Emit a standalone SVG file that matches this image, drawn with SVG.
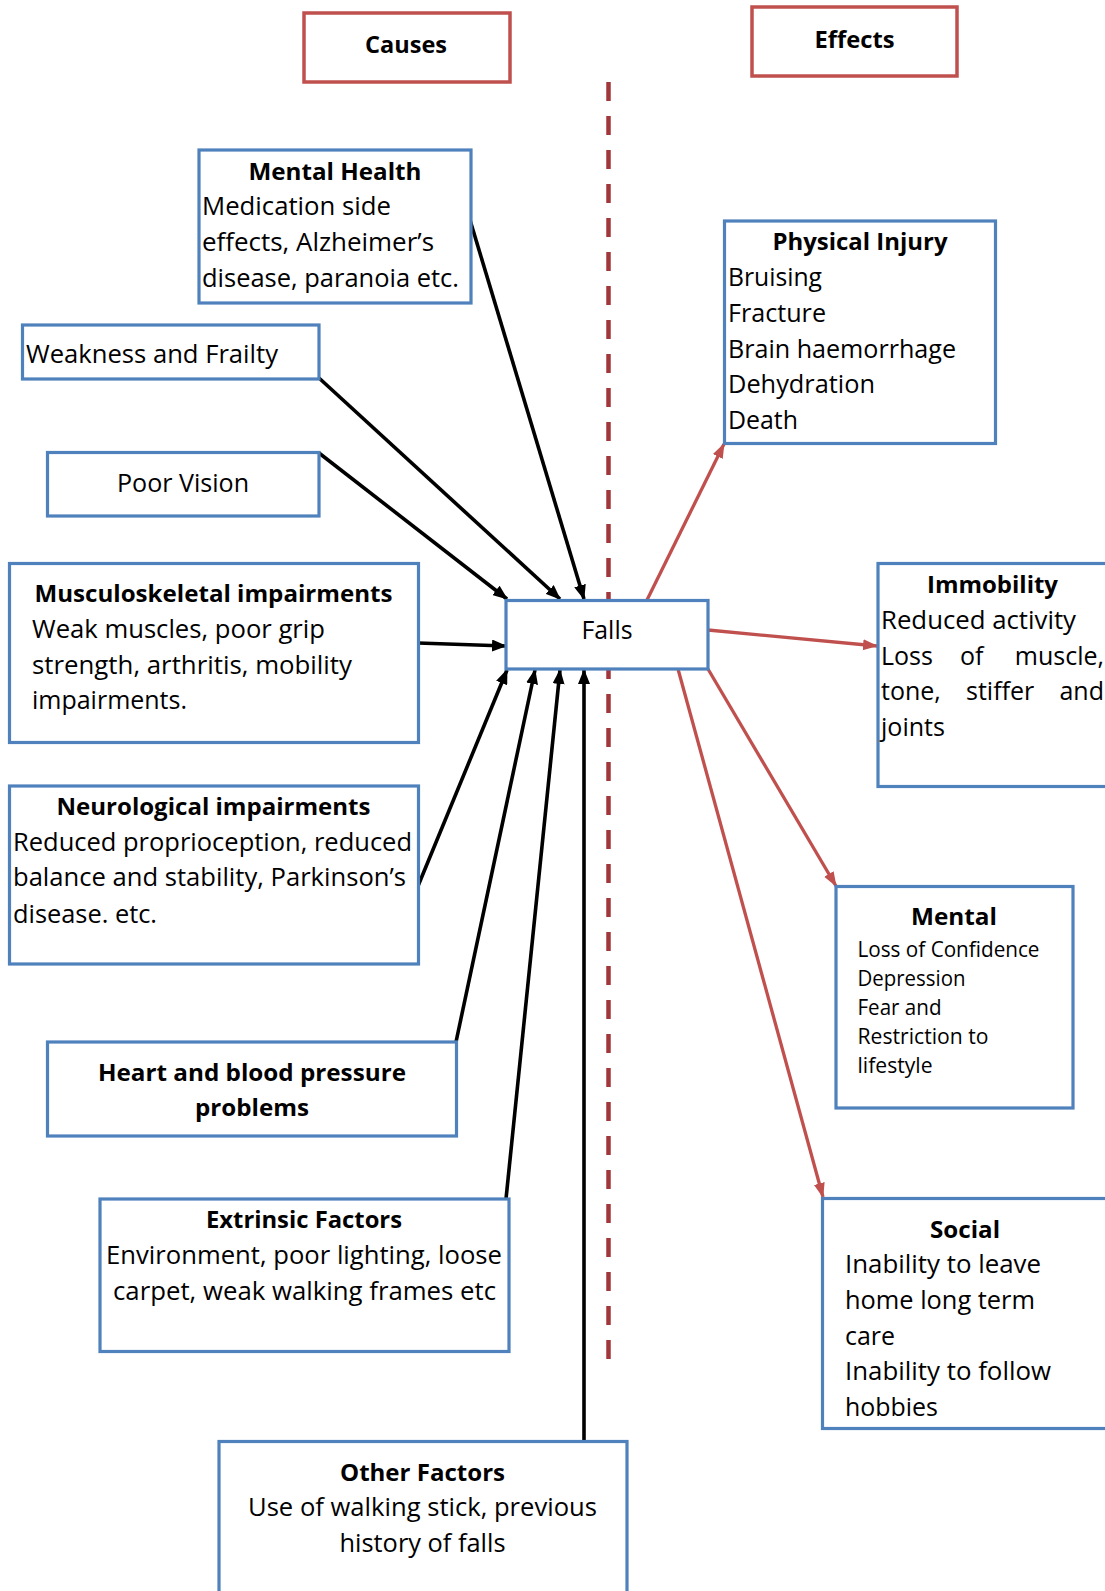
<svg xmlns="http://www.w3.org/2000/svg" width="1105" height="1591" viewBox="0 0 1105 1591">
<style>
.box{fill:#fff;stroke:#4F81BD;stroke-width:3.2}
.hdr{fill:#fff;stroke:#C0504D;stroke-width:3.5}
text{font-family:'Open Sans','Liberation Sans',sans-serif;font-size:25px;fill:#000}
.b{font-weight:700;font-size:24px}
.s{font-size:21px}
.c{text-anchor:middle}
.e{text-anchor:end}
.blk{stroke:#000;stroke-width:3.6;fill:none;marker-end:url(#ab)}
.red{stroke:#C0504D;stroke-width:3.3;fill:none;marker-end:url(#ar)}
.dash{stroke:#A0383B;stroke-width:4.5;stroke-dasharray:19 15;fill:none}
</style>
<defs>
<marker id="ab" viewBox="0 0 15 12" refX="14" refY="6" markerWidth="15" markerHeight="12" markerUnits="userSpaceOnUse" orient="auto"><path d="M0,0 L15,6 L0,12 z" fill="#000"/></marker>
<marker id="ar" viewBox="0 0 15 12" refX="14" refY="6" markerWidth="15" markerHeight="12" markerUnits="userSpaceOnUse" orient="auto"><path d="M0,0.5 L15,6 L0,11.5 z" fill="#C0504D"/></marker>
</defs>
<rect width="1105" height="1591" fill="#fff"/>
<line class="dash" x1="608.5" y1="82" x2="608.5" y2="1364"/>
<g id="connectors">
<line class="blk" x1="470" y1="220" x2="584" y2="599"/>
<line class="blk" x1="319" y1="378" x2="560" y2="599"/>
<line class="blk" x1="319" y1="453" x2="507" y2="599"/>
<line class="blk" x1="418" y1="643" x2="506" y2="646"/>
<line class="blk" x1="418" y1="886" x2="507" y2="670"/>
<line class="blk" x1="456" y1="1042" x2="535" y2="670"/>
<line class="blk" x1="506" y1="1199" x2="560" y2="670"/>
<line class="blk" x1="584" y1="1441" x2="584" y2="670"/>
<line class="red" x1="647" y1="600" x2="724" y2="444"/>
<line class="red" x1="708" y1="630" x2="877" y2="646"/>
<line class="red" x1="708" y1="669" x2="836" y2="886"/>
<line class="red" x1="678" y1="669" x2="823" y2="1197"/>
</g>
<g id="causes"><rect class="hdr" x="304" y="13" width="206" height="69"/><text class="b c" x="406" y="53" textLength="82" lengthAdjust="spacingAndGlyphs">Causes</text></g>
<g id="effects"><rect class="hdr" x="752" y="7" width="205" height="69"/><text class="b c" x="854.5" y="48" textLength="80" lengthAdjust="spacingAndGlyphs">Effects</text></g>
<g id="falls"><rect class="box" x="506" y="600.5" width="202" height="68.5"/><text class="c" x="607" y="639" textLength="51" lengthAdjust="spacingAndGlyphs">Falls</text></g>
<g id="mental-health"><rect class="box" x="199" y="150" width="272" height="153"/>
<text class="b c" x="335" y="180" textLength="173" lengthAdjust="spacingAndGlyphs">Mental Health</text>
<text x="202" y="215" textLength="189" lengthAdjust="spacingAndGlyphs">Medication side</text>
<text x="202" y="250.5" textLength="232" lengthAdjust="spacingAndGlyphs">effects, Alzheimer’s</text>
<text x="202" y="286.5" textLength="257" lengthAdjust="spacingAndGlyphs">disease, paranoia etc.</text></g>
<g id="weakness"><rect class="box" x="22.5" y="325" width="296.5" height="54"/>
<text x="26" y="363" textLength="252" lengthAdjust="spacingAndGlyphs">Weakness and Frailty</text></g>
<g id="poor-vision"><rect class="box" x="47.5" y="452.5" width="271.5" height="63.5"/>
<text class="c" x="183" y="491.5" textLength="132" lengthAdjust="spacingAndGlyphs">Poor Vision</text></g>
<g id="musculoskeletal"><rect class="box" x="9.5" y="563.5" width="409" height="179"/>
<text class="b c" x="213.5" y="602" textLength="358" lengthAdjust="spacingAndGlyphs">Musculoskeletal impairments</text>
<text x="32" y="638" textLength="293" lengthAdjust="spacingAndGlyphs">Weak muscles, poor grip</text>
<text x="32" y="673.5" textLength="320" lengthAdjust="spacingAndGlyphs">strength, arthritis, mobility</text>
<text x="32" y="709" textLength="155" lengthAdjust="spacingAndGlyphs">impairments.</text></g>
<g id="neurological"><rect class="box" x="9.5" y="786" width="409" height="178"/>
<text class="b c" x="213.5" y="815" textLength="314" lengthAdjust="spacingAndGlyphs">Neurological impairments</text>
<text x="13" y="850.5" textLength="399" lengthAdjust="spacingAndGlyphs">Reduced proprioception, reduced</text>
<text x="13" y="886" textLength="393" lengthAdjust="spacingAndGlyphs">balance and stability, Parkinson’s</text>
<text x="13" y="922.5" textLength="144" lengthAdjust="spacingAndGlyphs">disease. etc.</text></g>
<g id="heart"><rect class="box" x="47.5" y="1042" width="409" height="94"/>
<text class="b c" x="252" y="1080.5" textLength="308" lengthAdjust="spacingAndGlyphs">Heart and blood pressure</text>
<text class="b c" x="252" y="1116" textLength="114" lengthAdjust="spacingAndGlyphs">problems</text></g>
<g id="extrinsic"><rect class="box" x="100" y="1199" width="409" height="152.5"/>
<text class="b c" x="304" y="1228" textLength="196" lengthAdjust="spacingAndGlyphs">Extrinsic Factors</text>
<text class="c" x="304" y="1264" textLength="396" lengthAdjust="spacingAndGlyphs">Environment, poor lighting, loose</text>
<text class="c" x="304.5" y="1299.5" textLength="383" lengthAdjust="spacingAndGlyphs">carpet, weak walking frames etc</text></g>
<g id="other"><rect class="box" x="219" y="1441.5" width="408" height="160"/>
<text class="b c" x="422.5" y="1480.5" textLength="165" lengthAdjust="spacingAndGlyphs">Other Factors</text>
<text class="c" x="422.5" y="1516" textLength="349" lengthAdjust="spacingAndGlyphs">Use of walking stick, previous</text>
<text class="c" x="422.5" y="1551.5" textLength="166" lengthAdjust="spacingAndGlyphs">history of falls</text></g>
<g id="physical-injury"><rect class="box" x="724.5" y="221" width="271" height="222.5"/>
<text class="b c" x="860" y="249.5" textLength="175" lengthAdjust="spacingAndGlyphs">Physical Injury</text>
<text x="728" y="286" textLength="94" lengthAdjust="spacingAndGlyphs">Bruising</text>
<text x="728" y="321.5" textLength="98" lengthAdjust="spacingAndGlyphs">Fracture</text>
<text x="728" y="357.5" textLength="228" lengthAdjust="spacingAndGlyphs">Brain haemorrhage</text>
<text x="728" y="393" textLength="147" lengthAdjust="spacingAndGlyphs">Dehydration</text>
<text x="728" y="429" textLength="70" lengthAdjust="spacingAndGlyphs">Death</text></g>
<g id="immobility"><rect class="box" x="878" y="563.5" width="232" height="223"/>
<text class="b c" x="992.5" y="593" textLength="131" lengthAdjust="spacingAndGlyphs">Immobility</text>
<text x="881" y="628.5" textLength="195" lengthAdjust="spacingAndGlyphs">Reduced activity</text>
<text x="881" y="664.5">Loss</text><text x="960" y="664.5">of</text><text class="e" x="1104" y="664.5">muscle,</text>
<text x="881" y="700">tone,</text><text x="966" y="700">stiffer</text><text class="e" x="1104" y="700">and</text>
<text x="881" y="736" textLength="64" lengthAdjust="spacingAndGlyphs">joints</text></g>
<g id="mental"><rect class="box" x="836" y="886.5" width="237" height="221.5"/>
<text class="b c" x="954" y="925" textLength="86" lengthAdjust="spacingAndGlyphs">Mental</text>
<text class="s" x="857.5" y="956.5" textLength="182" lengthAdjust="spacingAndGlyphs">Loss of Confidence</text>
<text class="s" x="857.5" y="986" textLength="108" lengthAdjust="spacingAndGlyphs">Depression</text>
<text class="s" x="857.5" y="1015" textLength="84" lengthAdjust="spacingAndGlyphs">Fear and</text>
<text class="s" x="857.5" y="1044" textLength="131" lengthAdjust="spacingAndGlyphs">Restriction to</text>
<text class="s" x="857.5" y="1073" textLength="75" lengthAdjust="spacingAndGlyphs">lifestyle</text></g>
<g id="social"><rect class="box" x="822.5" y="1198.5" width="288" height="230"/>
<text class="b c" x="965" y="1237.5" textLength="70" lengthAdjust="spacingAndGlyphs">Social</text>
<text x="845" y="1273" textLength="196" lengthAdjust="spacingAndGlyphs">Inability to leave</text>
<text x="845" y="1309" textLength="190" lengthAdjust="spacingAndGlyphs">home long term</text>
<text x="845" y="1344.5" textLength="50" lengthAdjust="spacingAndGlyphs">care</text>
<text x="845" y="1380" textLength="206" lengthAdjust="spacingAndGlyphs">Inability to follow</text>
<text x="845" y="1415.5" textLength="93" lengthAdjust="spacingAndGlyphs">hobbies</text></g>
</svg>
